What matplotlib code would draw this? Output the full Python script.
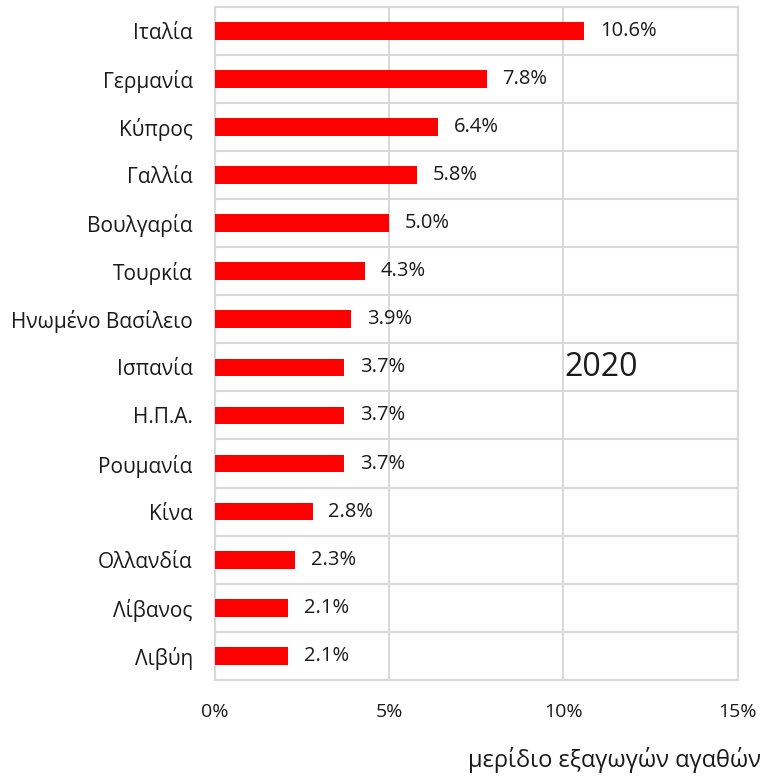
import matplotlib.pyplot as plt
import numpy as np

# χώρες και μερίδια εξαγωγών (2020)
countries = ['Ιταλία', 'Γερμανία', 'Κύπρος', 'Γαλλία', 'Βουλγαρία', 'Τουρκία',
             'Ηνωμένο Βασίλειο', 'Ισπανία', 'Η.Π.Α.', 'Ρουμανία', 'Κίνα',
             'Ολλανδία', 'Λίβανος', 'Λιβύη']
shares = [10.6, 7.8, 6.4, 5.8, 5.0, 4.3, 3.9, 3.7, 3.7, 3.7, 2.8, 2.3, 2.1, 2.1]
xticks = [0, 5, 10, 15]
xtick_labels = ['0%', '5%', '10%', '15%']

plt.rcParams['font.family'] = ['Open Sans', 'DejaVu Sans']

fig = plt.figure(figsize=(7.63, 7.76), dpi=100)
ax = fig.add_axes([0.2818, 0.124, 0.685, 0.867])

y = np.arange(len(countries))
ax.barh(y, shares, height=0.37, color='#ff0000', zorder=3)

for yi, v in zip(y, shares):
    ax.text(v + 0.45, yi, f'{v:.1f}%', va='center', ha='left', fontsize=14.5, color='#1a1a1a')

ax.set_xlim(0, 15)
ax.set_ylim(len(countries) - 0.5, -0.5)
ax.set_yticks(y)
ax.set_yticklabels(countries, fontsize=15, color='#1a1a1a')
ax.set_yticks(np.arange(len(countries) + 1) - 0.5, minor=True)
ax.set_xticks(xticks)
ax.set_xticklabels(xtick_labels, fontsize=14, color='#1a1a1a')

ax.tick_params(axis='both', which='both', length=0)
ax.tick_params(axis='y', pad=16)
ax.tick_params(axis='x', pad=17)

ax.grid(axis='x', which='major', color='#d9d9d9', linewidth=1.5, zorder=0)
ax.grid(axis='y', which='minor', color='#d9d9d9', linewidth=1.5, zorder=0)
for s in ax.spines.values():
    s.set_color('#d9d9d9')
    s.set_linewidth(1.5)

ax.text(11.07, 7, '2020', fontsize=23, va='center', ha='center', color='#1a1a1a')

fig.text(0.998, 0.004, 'μερίδιο εξαγωγών αγαθών', ha='right', va='bottom',
         fontsize=17, color='#1a1a1a')

fig.savefig('out.png', dpi=100)
